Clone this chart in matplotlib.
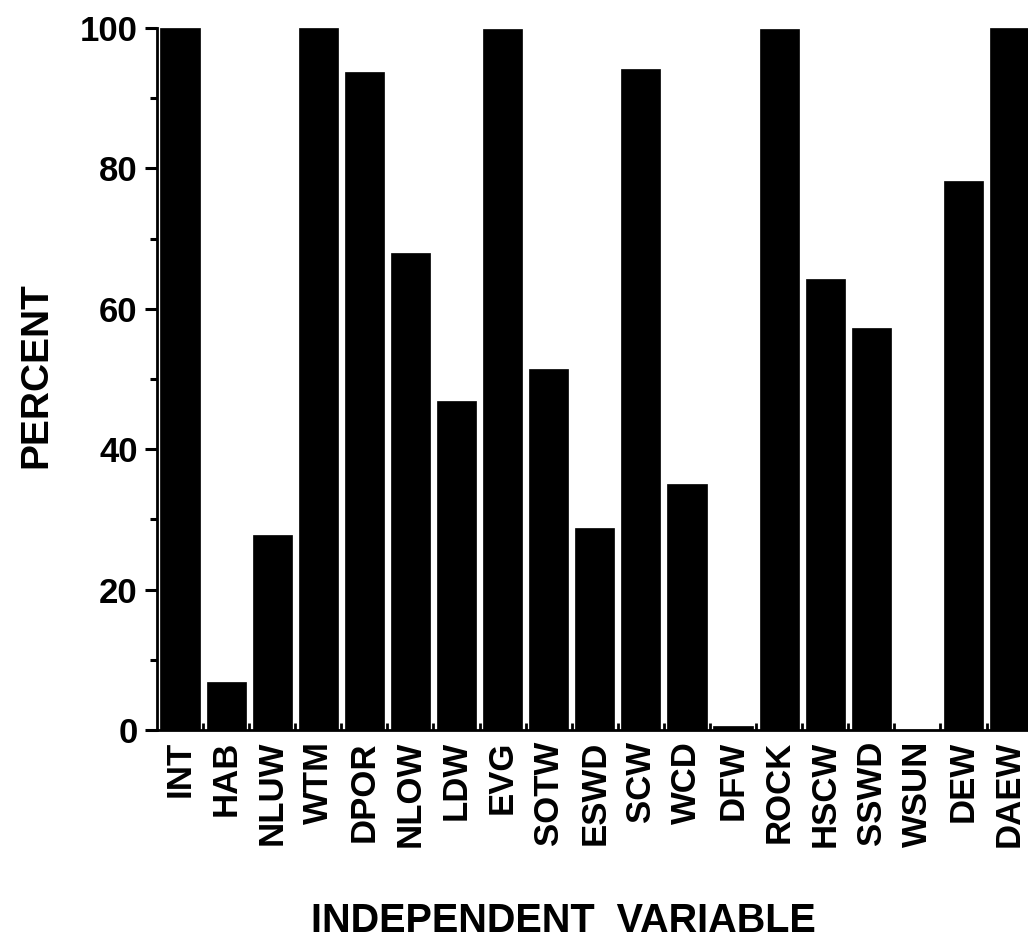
import matplotlib
matplotlib.use("Agg")
import matplotlib.pyplot as plt
import numpy as np
from matplotlib.ticker import FixedLocator

categories = ["INT", "HAB", "NLUW", "WTM", "DPOR", "NLOW", "LDW", "EVG", "SOTW",
              "ESWD", "SCW", "WCD", "DFW", "ROCK", "HSCW", "SSWD", "WSUN", "DEW", "DAEW"]
percent = [100, 6.8, 27.8, 100, 93.7, 67.9, 46.9, 99.8, 51.4,
           28.8, 94.2, 35.1, 0.6, 99.8, 64.2, 57.2, 0, 78.2, 100]
y_ticks = [0, 20, 40, 60, 80, 100]
y_minor = [10, 30, 50, 70, 90]

plt.rcParams['font.family'] = ['Liberation Sans', 'DejaVu Sans']
plt.rcParams['font.weight'] = 'bold'

fig = plt.figure(figsize=(10.28, 9.5), dpi=100)
ax = fig.add_axes([0.1527, 0.2316, 0.8473, 0.739])

x = np.arange(len(categories))
ax.bar(x, percent, width=0.85, color='black', edgecolor='black', linewidth=0.5)

ax.set_xlim(-0.5, 18.4)
ax.set_ylim(0, 100)

ax.spines['top'].set_visible(False)
ax.spines['right'].set_visible(False)
ax.spines['left'].set_linewidth(2.0)
ax.spines['bottom'].set_linewidth(2.0)

ax.set_yticks(y_ticks)
ax.set_yticklabels([str(v) for v in y_ticks], fontsize=25, fontweight='bold')
ax.yaxis.set_minor_locator(FixedLocator(y_minor))
ax.tick_params(axis='y', which='major', direction='out', length=9, width=2.2, pad=5)
ax.tick_params(axis='y', which='minor', direction='out', length=5, width=2.2)

ax.set_xticks(x)
ax.set_xticklabels(categories, rotation=90, fontsize=25, fontweight='bold')
ax.xaxis.set_minor_locator(FixedLocator(list(np.arange(0.5, 18.5, 1.0))))
ax.tick_params(axis='x', which='major', length=0, pad=8)
ax.tick_params(axis='x', which='minor', direction='in', length=5, width=2)

fig.text(0.035, 0.605, "PERCENT", rotation=90, fontsize=28, fontweight='bold',
         ha='center', va='center')
fig.text(0.548, 0.030, "INDEPENDENT  VARIABLE", fontsize=28.5, fontweight='bold',
         ha='center', va='center')

fig.savefig("out.png", dpi=100)
